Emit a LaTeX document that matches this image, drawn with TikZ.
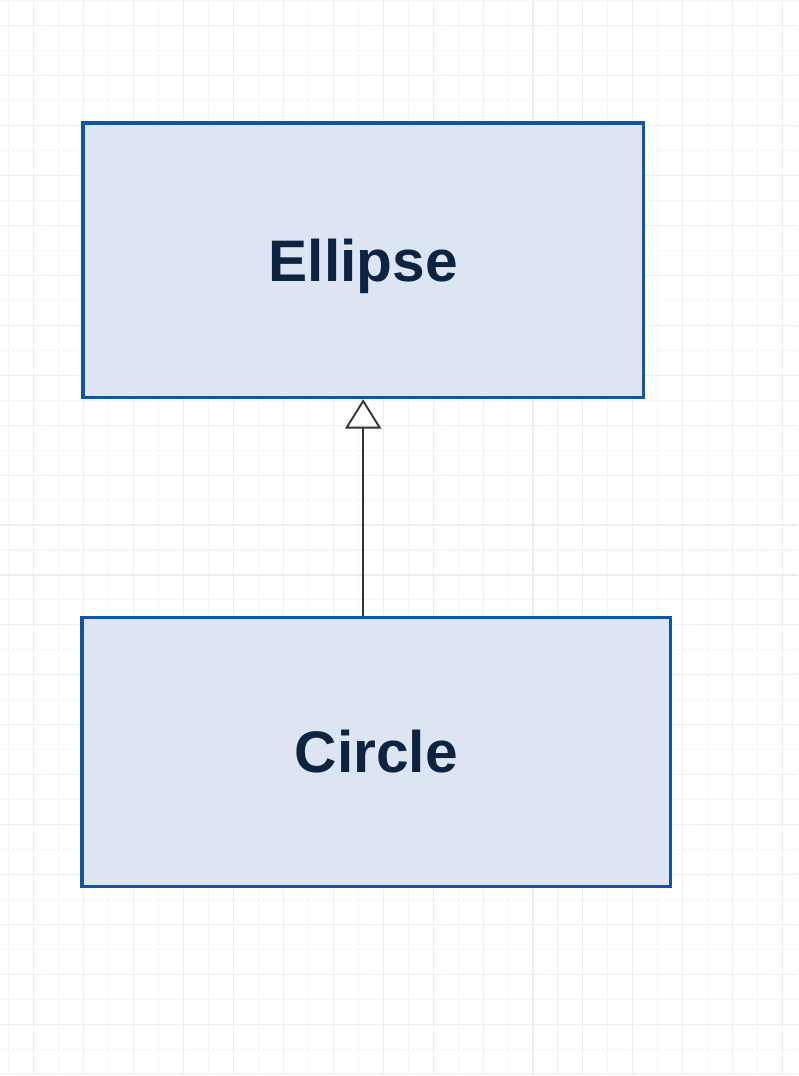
\documentclass[tikz,border=0pt]{standalone}
\usepackage{fontspec}
\setmainfont{Liberation Sans}
\usetikzlibrary{arrows.meta}
\definecolor{boxline}{RGB}{16,86,162}
\definecolor{boxfill}{RGB}{221,229,242}
\definecolor{boxtext}{RGB}{12,36,66}
\definecolor{gridmajor}{RGB}{238,236,249}
\definecolor{gridminor}{RGB}{246,245,251}
\definecolor{linkgray}{RGB}{51,51,51}
\tikzset{
  classbox/.style={draw=boxline, fill=boxfill, line width=2.6pt, inner sep=0pt,
    text height=31.5pt, text depth=0pt,
    font=\fontsize{44}{52}\selectfont\bfseries, text=boxtext},
  inherits/.style={draw=linkgray, line width=1.6pt,
    -{Triangle[open, length=22pt, width=27pt, line width=1.4pt]}}
}
\begin{document}
\begin{tikzpicture}[x=0.75pt,y=0.75pt,yscale=-1,xscale=1]
    % background and grid
    \fill [white] (0,0) rectangle (798,1076);
    \foreach \gx in {8,58,...,758} \draw [gridminor, line width=0.8pt] (\gx,0) -- (\gx,1076);
    \foreach \gy in {0,50,...,1050} \draw [gridminor, line width=0.8pt] (0,\gy) -- (798,\gy);
    \foreach \gx in {33,83,...,783} \draw [gridmajor, line width=0.8pt] (\gx,0) -- (\gx,1076);
    \foreach \gy in {25,75,...,1075} \draw [gridmajor, line width=0.8pt] (0,\gy) -- (798,\gy);
    \useasboundingbox (0,0) rectangle (798,1076);
    % classes
    \node (ellipse) at (363,260) [classbox, minimum width=421pt, minimum height=206pt] {Ellipse};
    \node (circle) at (376,752) [classbox, minimum width=442pt, minimum height=202pt] {Circle};
    % generalization
    \draw [inherits] (ellipse.south |- circle.north) -- (ellipse.south);
\end{tikzpicture}
\end{document}
